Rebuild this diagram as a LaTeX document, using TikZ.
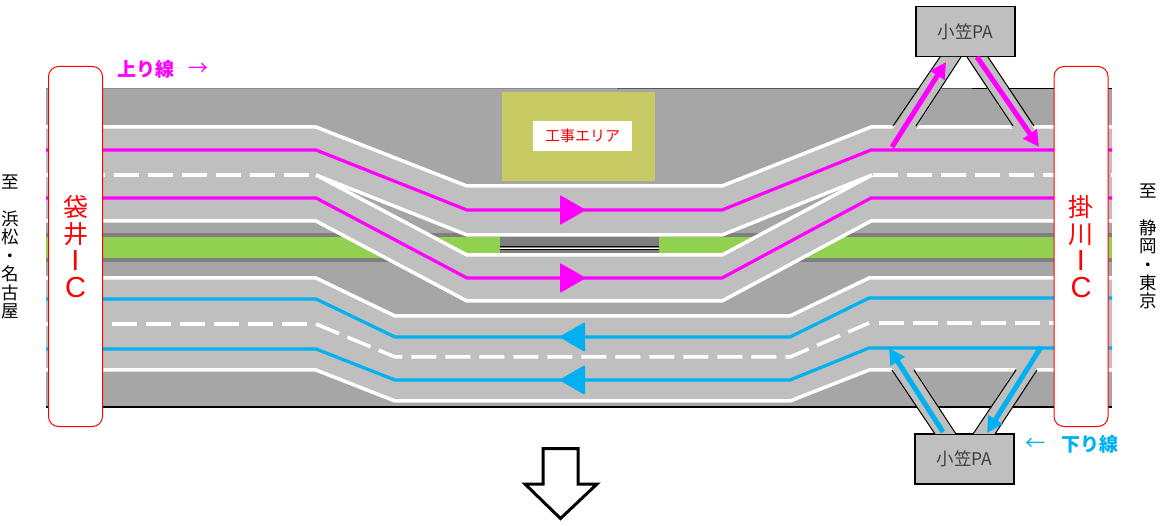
\documentclass[tikz,border=0pt]{standalone}
\usepackage{fontspec}
\setmainfont{Noto Sans CJK JP}
\newfontfamily\icfont{Liberation Sans}
\usetikzlibrary{arrows.meta}
\definecolor{roadbase}{HTML}{A6A6A6}
\definecolor{lane}{HTML}{BFBFBF}
\definecolor{band}{HTML}{7F7F7F}
\definecolor{median}{HTML}{92D050}
\definecolor{area}{HTML}{C8CA64}
\definecolor{upline}{HTML}{FF00FF}
\definecolor{downline}{HTML}{00B0F0}
\newcommand{\iclatin}[1]{{\icfont\fontsize{29}{27}\selectfont #1}}
\tikzset{
	edgeline/.style={white,line width=3.5pt},
	dashline/.style={white,line width=3.5pt,dash pattern=on 25pt off 9pt},
	upstripe/.style={upline,line width=3.2pt},
	downstripe/.style={downline,line width=3.2pt},
	rampedge/.style={black,line width=1pt},
	uparrow/.style={upline,line width=5pt,-{Triangle[length=16pt,width=16pt]}},
	downarrow/.style={downline,line width=5pt,-{Triangle[length=16pt,width=16pt]}},
	pabox/.style={draw=black,fill=lane,line width=1.2pt,text=black!75,minimum width=99pt,minimum height=50pt,inner sep=0pt,font=\fontsize{17.5}{19}\selectfont},
	icbox/.style={draw=red,fill=white,rounded corners=10pt,line width=1pt,text=red,minimum width=54pt,minimum height=360pt,inner sep=0pt,align=center,font=\fontsize{25}{27}\selectfont},
	sidetext/.style={align=center,inner sep=0pt,font=\fontsize{17.5}{18.4}\selectfont}
}
\begin{document}
\begin{tikzpicture}[x=1pt,y=-1pt]
\useasboundingbox (0,0) rectangle (1162,526);
\fill[roadbase] (46,89) rectangle (1112,407);
\draw[black!45,line width=1pt] (46,89) -- (617,89);
\draw[black!65,line width=1pt] (617,89) -- (972,89);
\draw[black,line width=1pt] (972,89) -- (1112,89);
\draw[black,line width=1.2pt] (46,407) -- (1112,407);
\fill[band] (46,233) rectangle (1112,262);
\fill[median] (46,237) rectangle (1112,258);
\fill[band] (500,237) rectangle (659,256);
\draw[black,line width=0.9pt] (500,246.5) -- (659,246.5);
\draw[white,line width=0.9pt] (500,248) -- (659,248);
\draw[black,line width=0.9pt] (500,249.5) -- (659,249.5);
\fill[area] (502,92) rectangle (655,181);
\node (work) [fill=white,text=red,minimum width=99pt,minimum height=30pt,inner sep=0pt,font=\fontsize{15}{16}\selectfont] at (582.5,136) {工事エリア};
\fill[lane] (46,127) -- (316,127) -- (467,186) -- (722,186) -- (871,127) -- (1112,127) -- (1112,175) -- (872,175) -- (722,235) -- (467,235) -- (316,175) -- (46,175) -- cycle;
\fill[lane] (46,175) -- (316,175) -- (467,255) -- (722,255) -- (872,175) -- (1112,175) -- (1112,221) -- (871,221) -- (722,301) -- (467,301) -- (316,221) -- (46,221) -- cycle;
\fill[lane] (46,278) -- (316,278) -- (395,316) -- (790,316) -- (869,278) -- (1112,278) -- (1112,370) -- (869,370) -- (790,401) -- (395,401) -- (316,370) -- (46,370) -- cycle;
\draw[edgeline] (46,127) -- (316,127) -- (467,186) -- (722,186) -- (871,127) -- (1112,127);
\draw[edgeline] (316,175) -- (467,235) -- (722,235) -- (872,175);
\draw[edgeline] (316,175) -- (467,255) -- (722,255) -- (872,175);
\draw[edgeline] (46,221) -- (316,221) -- (467,301) -- (722,301) -- (871,221) -- (1112,221);
\draw[dashline] (46,175) -- (310,175);
\draw[dashline] (873,175) -- (1112,175);
\draw[upstripe] (46,150) -- (316,150) -- (467,210) -- (722,210) -- (871,150) -- (1112,150);
\draw[upstripe] (46,198) -- (316,198) -- (467,278) -- (722,278) -- (871,198) -- (1112,198);
\draw[edgeline] (46,278) -- (316,278) -- (395,316) -- (790,316) -- (869,278) -- (1112,278);
\draw[edgeline] (46,370) -- (316,370) -- (395,401) -- (790,401) -- (869,370) -- (1112,370);
\draw[dashline] (44,324) -- (308,324);
\draw[dashline] (316,324) -- (395,357) -- (790,357) -- (869,323);
\draw[dashline] (879,323) -- (1112,323);
\draw[downstripe] (46,299) -- (316,299) -- (395,337) -- (790,337) -- (869,298) -- (1112,298);
\draw[downstripe] (46,349) -- (316,349) -- (395,380) -- (790,380) -- (869,348) -- (1112,348);
\foreach \y in {210,278}
{
	\fill[upline,rounded corners=1pt] (560,\y-15) -- (586,\y) -- (560,\y+15) -- cycle;
}
\foreach \y in {337,380}
{
	\fill[downline,rounded corners=1pt] (585,\y-15) -- (559,\y) -- (585,\y+15) -- cycle;
}
\node (paup) [pabox] at (965.5,31.5) {小笠PA};
\node (padown) [pabox] at (964.5,459) {小笠PA};
\foreach \a/\b/\c/\d in {940/893/961/916,967/1013/988/1034}
{
	\fill[lane] (\a,57) -- (\b,129) -- (\d,129) -- (\c,57) -- cycle;
	\draw[rampedge] (\a,57) -- (\b,126);
	\draw[rampedge] (\c,57) -- (\d,126);
}
\foreach \a/\b/\c/\d in {935/892/956/914,973/1016/995/1037}
{
	\fill[lane] (\a,434) -- (\b,368) -- (\d,368) -- (\c,434) -- cycle;
	\draw[rampedge] (\a,434) -- (\b,370);
	\draw[rampedge] (\c,434) -- (\d,370);
}
\draw[uparrow] (892,147) -- (946,62);
\draw[uparrow] (977,57) -- (1039,147);
\draw[downarrow] (943,432) -- (889,348);
\draw[downarrow] (1041,347) -- (987,433);
\node (icwest) [icbox] at (75.5,246.5) {袋\\井\\\iclatin{I}\\\iclatin{C}};
\node (iceast) [icbox] at (1081,246.5) {掛\\川\\\iclatin{I}\\\iclatin{C}};
\node (west) [sidetext] at (10,247) {至\\~\\浜\\松\\・\\名\\古\\屋};
\node (east) [sidetext] at (1148,246.5) {至\\~\\静\\岡\\・\\東\\京};
\node (upname) [anchor=west,inner sep=0pt,text=upline,font=\fontsize{19}{21}\bfseries\selectfont] at (117,69) {上り線};
\node (uparr) [anchor=west,inner sep=0pt,text=upline,font=\fontsize{20}{21}\selectfont] at (188,69) {→};
\node (downarr) [anchor=west,inner sep=0pt,text=downline,font=\fontsize{20}{21}\selectfont] at (1025,444) {←};
\node (downname) [anchor=west,inner sep=0pt,text=downline,font=\fontsize{19}{21}\bfseries\selectfont] at (1061,444) {下り線};
\draw[black,line width=3pt,fill=white] (543,448.5) -- (578,448.5) -- (578,484) -- (597,484) -- (560.5,518.5) -- (525,484) -- (543,484) -- cycle;
\end{tikzpicture}
\end{document}
